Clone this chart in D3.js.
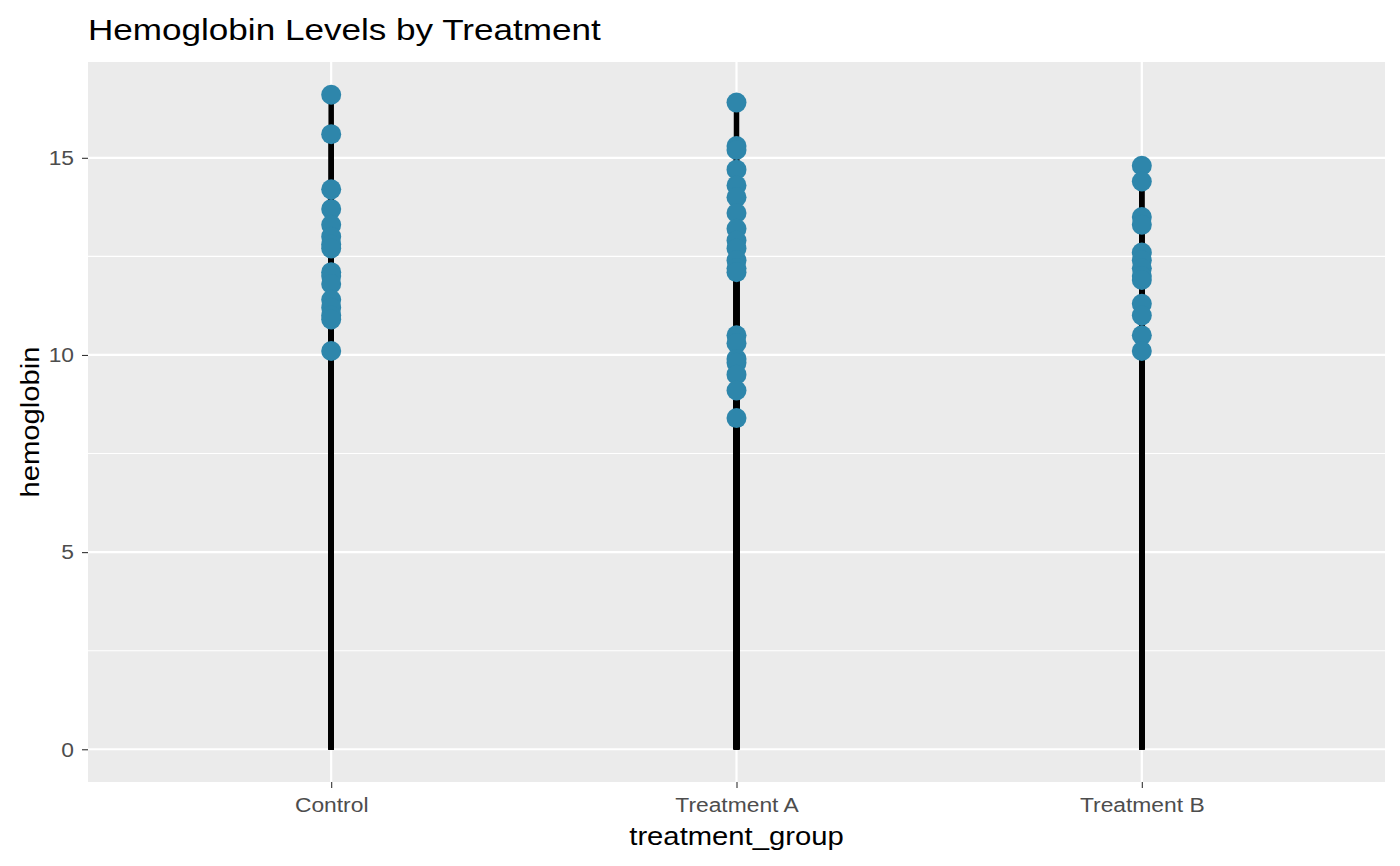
<!DOCTYPE html>
<html>
<head>
<meta charset="utf-8">
<script src="https://cdn.jsdelivr.net/npm/d3@7"></script>
<style>
  body { margin: 0; background: #fff; }
  text { font-family: "Liberation Sans", Arial, sans-serif; }
</style>
</head>
<body>
<div id="chart"></div>
<script>
// data
var groups = ["Control", "Treatment A", "Treatment B"];
var controlValues = [16.6, 15.6, 14.2, 13.7, 13.3, 13.0, 12.8, 12.7, 12.1, 12.0, 11.8, 11.4, 11.2, 11.0, 10.9, 10.1];
var treatmentAValues = [16.4, 15.3, 15.2, 14.7, 14.3, 14.0, 13.6, 13.2, 12.9, 12.7, 12.4, 12.2, 12.1, 10.5, 10.3, 9.9, 9.8, 9.5, 9.1, 8.4];
var treatmentBValues = [14.8, 14.4, 13.5, 13.3, 12.6, 12.4, 12.2, 12.0, 11.9, 11.3, 11.0, 10.5, 10.1];
var yTicks = [0, 5, 10, 15];
var yMinorTicks = [2.5, 7.5, 12.5];

var svgWidth = 1400;
var svgHeight = 866;
var margin = { top: 62, right: 15, bottom: 84, left: 88 };
var width = svgWidth - margin.left - margin.right;
var height = svgHeight - margin.top - margin.bottom;

// the reference font runs a bit wider than Liberation Sans
var stretch = 1.17;

var rows = [];
[controlValues, treatmentAValues, treatmentBValues].forEach(function(vals, i) {
  vals.forEach(function(v) { rows.push({ group: groups[i], hemoglobin: v }); });
});

var svg = d3.select("#chart")
  .append("svg")
  .attr("width", svgWidth)
  .attr("height", svgHeight);

var chartGroup = svg.append("g")
  .attr("transform", `translate(${margin.left}, ${margin.top})`);

// ggplot style discrete scale with 0.6 expansion
var xScale = d3.scalePoint()
  .domain(groups)
  .range([0, width])
  .padding(0.6);

var yMax = d3.max(rows, d => d.hemoglobin);
var pad = yMax * 0.05;
var yScale = d3.scaleLinear()
  .domain([0 - pad, yMax + pad])
  .range([height, 0]);

// panel background
chartGroup.append("rect")
  .attr("width", width)
  .attr("height", height)
  .attr("fill", "#EBEBEB");

// grid
chartGroup.selectAll(".minor")
  .data(yMinorTicks)
  .enter()
  .append("line")
  .attr("x1", 0).attr("x2", width)
  .attr("y1", d => yScale(d)).attr("y2", d => yScale(d))
  .attr("stroke", "#fff")
  .attr("stroke-width", 1.1);

chartGroup.selectAll(".majorY")
  .data(yTicks)
  .enter()
  .append("line")
  .attr("x1", 0).attr("x2", width)
  .attr("y1", d => yScale(d)).attr("y2", d => yScale(d))
  .attr("stroke", "#fff")
  .attr("stroke-width", 2.2);

chartGroup.selectAll(".majorX")
  .data(groups)
  .enter()
  .append("line")
  .attr("x1", d => xScale(d)).attr("x2", d => xScale(d))
  .attr("y1", 0).attr("y2", height)
  .attr("stroke", "#fff")
  .attr("stroke-width", 2.2);

// axes
var leftAxis = d3.axisLeft(yScale).tickValues(yTicks).tickSize(6);
var bottomAxis = d3.axisBottom(xScale).tickSize(6);

var yAxisG = chartGroup.append("g").call(leftAxis);
var xAxisG = chartGroup.append("g")
  .attr("transform", `translate(0, ${height})`)
  .call(bottomAxis);

[yAxisG, xAxisG].forEach(function(g) {
  g.select(".domain").remove();
  g.selectAll(".tick line").attr("stroke", "#333").attr("stroke-width", 1.1);
  g.selectAll(".tick text")
    .attr("fill", "#4D4D4D")
    .attr("font-size", 19.5)
    .style("font-family", "'Liberation Sans', Arial, sans-serif")
    .attr("transform", `scale(${stretch},1)`);
});

yAxisG.selectAll(".tick text")
  .attr("x", -14 / stretch)
  .attr("dy", "0.35em");

xAxisG.selectAll(".tick text")
  .attr("y", 30)
  .attr("dy", 0);

// lollipop sticks
chartGroup.selectAll(".stick")
  .data(rows)
  .enter()
  .append("line")
  .attr("x1", d => xScale(d.group)).attr("x2", d => xScale(d.group))
  .attr("y1", yScale(0))
  .attr("y2", d => yScale(d.hemoglobin))
  .attr("stroke", "#000")
  .attr("stroke-width", 5.5);

// points
chartGroup.selectAll("circle")
  .data(rows)
  .enter()
  .append("circle")
  .attr("cx", d => xScale(d.group))
  .attr("cy", d => yScale(d.hemoglobin))
  .attr("r", 10)
  .attr("fill", "#2E86AB");

// titles
svg.append("text")
  .attr("transform", `translate(${margin.left}, 40) scale(${stretch},1)`)
  .attr("font-size", 30)
  .attr("fill", "#000")
  .text("Hemoglobin Levels by Treatment");

svg.append("text")
  .attr("transform", `translate(${margin.left + width / 2}, 845) scale(${stretch},1)`)
  .attr("text-anchor", "middle")
  .attr("font-size", 25)
  .attr("fill", "#000")
  .text("treatment_group");

svg.append("text")
  .attr("transform", `translate(39, ${margin.top + height / 2}) rotate(-90) scale(${stretch},1)`)
  .attr("text-anchor", "middle")
  .attr("font-size", 25)
  .attr("fill", "#000")
  .text("hemoglobin");
</script>
</body>
</html>
